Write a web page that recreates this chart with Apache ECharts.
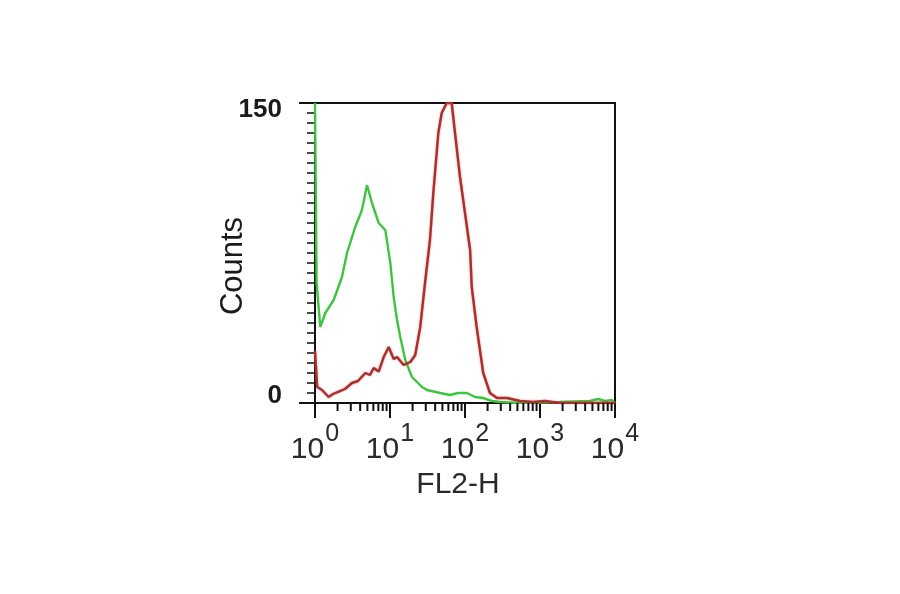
<!DOCTYPE html>
<html>
<head>
<meta charset="utf-8">
<script src="https://cdn.jsdelivr.net/npm/echarts@6/dist/echarts.min.js"></script>
<style>html,body{margin:0;padding:0;background:#fff}#c{width:900px;height:594px}</style>
</head>
<body>
<div id="c"></div>
<script>
// FL2-H channel values (log scale) and counts
const greenX = [1, 1.05, 1.177, 1.372, 1.775, 2.29, 2.67, 3.44, 4.23, 4.94, 5.75, 7.07, 8.66, 10.1, 11.2, 12.4, 13.7, 16.0, 19.6, 26.7, 31.1, 46.4, 63.1, 80.7, 106, 136, 174, 229, 293, 541, 1848, 4642, 5937, 7356, 9120, 10000];
const greenY = [150, 60, 38, 45, 51.5, 63, 75, 88, 96.5, 109, 100, 90, 86.5, 70, 53, 41.5, 33, 21.5, 13, 8, 6.5, 5, 4, 5, 5, 3, 2.5, 1, 0.5, 0, 0.5, 1, 2, 1, 1.5, 0];
const redX = [1, 1.04, 1.07, 1.24, 1.52, 1.74, 2.07, 2.51, 3.11, 3.74, 4.69, 5.41, 6.06, 7.07, 8.24, 9.61, 11.2, 12.4, 15.2, 18.7, 21.7, 25.3, 29.3, 34.1, 37.8, 44.1, 48.9, 57.0, 66.5, 73.6, 85.8, 100, 117, 123, 143, 175, 215, 267, 363, 541, 807, 1166, 1848, 10000];
const redY = [26, 25, 8, 6.5, 3, 4.5, 5.7, 7, 10, 11, 15, 14, 17.5, 15.7, 23, 28, 22, 23, 19, 20.5, 24, 38, 60, 81.5, 105, 135, 145, 150, 150, 135, 113, 95, 76.5, 58, 38, 15, 5, 2.5, 2.5, 1, 0.5, 1, 0, 0];
const xMinorTicks = [2,3,4,5,6,7,8,9,20,30,40,50,60,70,80,90,200,300,400,500,600,700,800,900,2000,3000,4000,5000,6000,7000,8000,9000];
const yTickLabels = ['0', '150'];

const green = greenX.map((x, i) => [x, greenY[i]]);
const red = redX.map((x, i) => [x, redY[i]]);
const font = '"Liberation Sans", Arial, sans-serif';

const chart = echarts.init(document.getElementById('c'), null, {renderer: 'canvas'});
chart.setOption({
  animation: false,
  backgroundColor: '#fff',
  grid: {left: 315, top: 103, width: 300, height: 300, show: true, borderColor: '#111', borderWidth: 2, backgroundColor: 'transparent'},
  xAxis: {
    type: 'log', logBase: 10, min: 1, max: 10000,
    name: 'FL2-H', nameLocation: 'middle', nameGap: 64,
    nameTextStyle: {fontFamily: font, fontSize: 30, color: '#2a2a2a', padding: [0, 14, 0, 0]},
    axisLine: {lineStyle: {color: '#111', width: 2}},
    axisTick: {show: true, length: 15, lineStyle: {color: '#111', width: 2}},
    splitLine: {show: false},
    minorTick: {show: false},
    axisLabel: {
      margin: 19,
      formatter: v => '{n|10}{s|' + Math.round(Math.log10(v)) + '}',
      rich: {
        n: {fontFamily: font, fontSize: 30, color: '#2a2a2a', lineHeight: 56, verticalAlign: 'middle'},
        s: {fontFamily: font, fontSize: 25, color: '#2a2a2a', lineHeight: 24, padding: [0, 0, 0, 1], verticalAlign: 'top'}
      }
    }
  },
  yAxis: {
    type: 'value', min: 0, max: 150, interval: 150,
    name: 'Counts', nameLocation: 'middle', nameGap: 66, nameRotate: 90, nameMoveOverlap: false,
    nameTextStyle: {fontFamily: font, fontSize: 31, color: '#1a1a1a', padding: [0, 26, 0, 0]},
    axisLine: {show: true, lineStyle: {color: '#111', width: 2}},
    axisTick: {show: true, length: 16, lineStyle: {color: '#111', width: 2}},
    minorTick: {show: true, splitNumber: 30, length: 8, lineStyle: {color: '#111', width: 1.5}},
    splitLine: {show: false},
    axisLabel: {
      margin: 33, fontFamily: font, fontSize: 26, fontWeight: 'bold', color: '#1a1a1a', lineHeight: 14,
      verticalAlignMinLabel: 'bottom', verticalAlignMaxLabel: 'top',
      formatter: v => yTickLabels[v === 0 ? 0 : 1]
    }
  },
  series: [
    {
      type: 'line', data: green, showSymbol: false, clip: true,
      lineStyle: {color: '#3ec43e', width: 2.4}, z: 2
    },
    {
      type: 'line', data: red, showSymbol: false, clip: true,
      lineStyle: {color: '#a8302e', width: 2.4, shadowColor: 'rgba(230,60,60,0.6)', shadowBlur: 2}, z: 3
    },
    {
      type: 'custom', data: xMinorTicks.map(v => [v, 0]), clip: false, silent: true, z: 5,
      renderItem: (params, api) => {
        const p = api.coord([api.value(0), 0]);
        return {type: 'line', shape: {x1: p[0], y1: p[1], x2: p[0], y2: p[1] + 8}, style: {stroke: '#111', lineWidth: 2}};
      }
    }
  ]
});
</script>
</body>
</html>
